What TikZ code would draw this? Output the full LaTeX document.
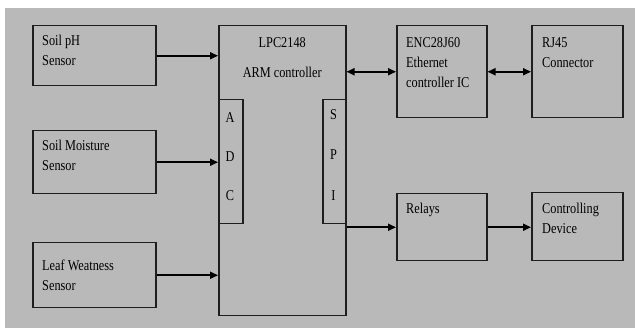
\documentclass[tikz,border=0pt]{standalone}
\usepackage{fontspec}
\setmainfont{Liberation Serif}[FakeStretch=0.82]
\usetikzlibrary{arrows.meta, positioning}
\definecolor{cPanel}{RGB}{185,185,185}
\definecolor{cEdge}{RGB}{30,30,30}
\tikzset{
	blockbox/.style={rectangle, draw=cEdge, line width=1.5pt, fill=cPanel, anchor=north west, inner sep=0pt},
	boxtext/.style={inner sep=0pt, align=left, font=\fontsize{15}{20}\selectfont, text=black},
	letter/.style={inner sep=0pt, font=\fontsize{15}{18}\selectfont, text=black},
	flowarrow/.style={-{Triangle[length=8pt, width=7pt]}, line width=1.7pt},
	duplex/.style={{Triangle[length=8pt, width=7pt]}-{Triangle[length=8pt, width=7pt]}, line width=1.7pt},
}
\begin{document}
\begin{tikzpicture}[x=1pt, y=-1pt]
	\useasboundingbox (0,0) rectangle (635,328);
	\fill[cPanel] (5,8) rectangle (635,328);
	% sensors
	\node[blockbox, minimum width=123pt, minimum height=60pt] (ph) at (32,25) {};
	\node[blockbox, minimum width=123pt, minimum height=63pt] (moist) at (32,130) {};
	\node[blockbox, minimum width=123pt, minimum height=65pt] (leaf) at (32,242) {};
	\node[boxtext, below right=10pt and 10pt of ph.north west] {Soil pH\\Sensor};
	\node[boxtext, below right=10pt and 10pt of moist.north west] {Soil Moisture\\Sensor};
	\node[boxtext, below right=18pt and 10pt of leaf.north west] {Leaf Weatness\\Sensor};
	% controller
	\node[blockbox, minimum width=127pt, minimum height=290pt] (lpc) at (218,25) {};
	\node[boxtext, align=center, below=12pt of lpc.north] {LPC2148\\[10pt]ARM controller};
	\node[blockbox, minimum width=24pt, minimum height=124pt] (adc) at (218,99) {};
	\node[blockbox, minimum width=23pt, minimum height=124pt] (spi) at (322,99) {};
	\foreach \ch/\yy in {A/118, D/157, C/196} {
		\node[letter] (adc\ch) at (230,\yy) {\ch};
	}
	\foreach \ch/\yy in {S/115, P/155, I/196} {
		\node[letter] (spi\ch) at (333.5,\yy) {\ch};
	}
	% outputs
	\node[blockbox, minimum width=90pt, minimum height=92pt] (enc) at (396,25) {};
	\node[blockbox, minimum width=91pt, minimum height=92pt] (rj) at (531,25) {};
	\node[blockbox, minimum width=90pt, minimum height=67pt] (relays) at (396,193) {};
	\node[blockbox, minimum width=91pt, minimum height=68pt] (device) at (531,192) {};
	\node[boxtext, below right=12pt and 10pt of enc.north west] {ENC28J60\\Ethernet\\controller IC};
	\node[boxtext, below right=12pt and 11pt of rj.north west] {RJ45\\Connector};
	\node[boxtext, below right=10pt and 10pt of relays.north west] {Relays};
	\node[boxtext, below right=11pt and 11pt of device.north west] {Controlling\\Device};
	% connectors
	\draw[flowarrow] (ph.east) -- (ph.east -| lpc.west);
	\draw[flowarrow] (moist.east) -- (moist.east -| lpc.west);
	\draw[flowarrow] (leaf.east) -- (leaf.east -| lpc.west);
	\draw[duplex] (enc.west -| lpc.east) -- (enc.west);
	\draw[duplex] (enc.east) -- (rj.west);
	\draw[flowarrow] (relays.west -| spi.east) -- (relays.west);
	\draw[flowarrow] (relays.east) -- (relays.east -| device.west);
\end{tikzpicture}
\end{document}
